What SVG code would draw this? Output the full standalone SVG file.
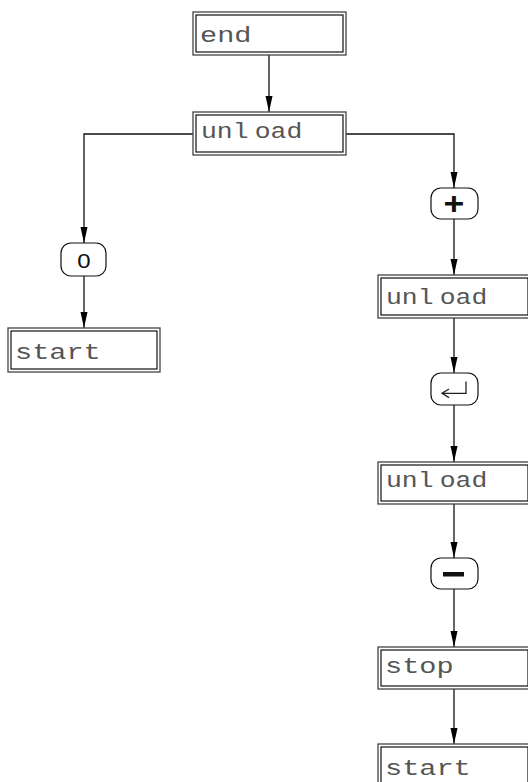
<svg xmlns="http://www.w3.org/2000/svg" width="528" height="782" viewBox="0 0 528 782">
<style>
.o{fill:#fff;stroke:#444;stroke-width:1.3}
.i{fill:none;stroke:#111;stroke-width:1.2}
.t{font-family:"Liberation Mono",monospace;font-size:22px;fill:#555}
.u{word-spacing:-8px}
.k{fill:#fff;stroke:#111;stroke-width:1.2}
.kt{fill:#111;text-anchor:middle}
.c{fill:none;stroke:#111;stroke-width:1.3}
.s{fill:none;stroke:#222;stroke-width:1.3}
</style>
<defs>
<marker id="m" markerUnits="userSpaceOnUse" markerWidth="18" markerHeight="10" refX="16" refY="3.5" orient="auto" viewBox="0 0 18 7">
<path d="M0,0 L16,3.5 L0,7 Z" fill="#000"/>
</marker>
</defs>
<g id="connectors">
<path class="c" d="M269,55 V112" marker-end="url(#m)"/>
<path class="c" d="M193,134 H84 V243" marker-end="url(#m)"/>
<path class="c" d="M84,276 V328" marker-end="url(#m)"/>
<path class="c" d="M346,134 H454 V188" marker-end="url(#m)"/>
<path class="c" d="M454,219 V275" marker-end="url(#m)"/>
<path class="c" d="M454,318 V373" marker-end="url(#m)"/>
<path class="c" d="M454,405 V462" marker-end="url(#m)"/>
<path class="c" d="M454,504 V558" marker-end="url(#m)"/>
<path class="c" d="M454,589 V647" marker-end="url(#m)"/>
<path class="c" d="M454,689 V744" marker-end="url(#m)"/>
</g>
<g id="end">
<rect class="o" x="193" y="12" width="153" height="43"/>
<rect class="i" x="196" y="15" width="147" height="37"/>
<text class="t" transform="translate(200,42) scale(1.3,1)">end</text>
</g>
<g id="unload1">
<rect class="o" x="193" y="112" width="153" height="43"/>
<rect class="i" x="196" y="115" width="147" height="37"/>
<text class="t u" transform="translate(201,138) scale(1.2,1)">unl oad</text>
</g>
<g id="key0">
<rect class="k" x="61" y="243" width="45" height="33" rx="10"/>
<text class="kt" transform="translate(84,268) scale(1.2,1)" style="font-family:'Liberation Sans',sans-serif;font-size:20px">0</text>
</g>
<g id="start1">
<rect class="o" x="8" y="328" width="152" height="44"/>
<rect class="i" x="11" y="331" width="146" height="38"/>
<text class="t" transform="translate(15,359) scale(1.3,1)">start</text>
</g>
<g id="keyplus">
<rect class="k" x="431" y="188" width="47" height="31" rx="10"/>
<text class="kt" transform="translate(454,214) scale(1.15,1)" style="font-family:'Liberation Sans',sans-serif;font-size:31px;font-weight:bold">+</text>
</g>
<g id="unload2">
<rect class="o" x="378" y="275" width="153" height="43"/>
<rect class="i" x="381" y="278" width="147" height="37"/>
<text class="t u" transform="translate(386,304) scale(1.2,1)">unl oad</text>
</g>
<g id="keyenter">
<rect class="k" x="431" y="373" width="47" height="32" rx="10"/>
<path class="s" d="M466,381.5 V393.3 H442 M449,389 L442,393.3 L449,397.6"/>
</g>
<g id="unload3">
<rect class="o" x="378" y="462" width="153" height="42"/>
<rect class="i" x="381" y="465" width="147" height="36"/>
<text class="t u" transform="translate(386,487) scale(1.2,1)">unl oad</text>
</g>
<g id="keyminus">
<rect class="k" x="431" y="558" width="47" height="31" rx="10"/>
<rect x="443" y="572" width="21" height="4.5" fill="#111"/>
</g>
<g id="stop">
<rect class="o" x="378" y="647" width="153" height="42"/>
<rect class="i" x="381" y="650" width="147" height="36"/>
<text class="t" transform="translate(385,673) scale(1.3,1)">stop</text>
</g>
<g id="start2">
<rect class="o" x="378" y="744" width="153" height="43"/>
<rect class="i" x="381" y="747" width="147" height="37"/>
<text class="t" transform="translate(385,775) scale(1.3,1)">start</text>
</g>
</svg>
